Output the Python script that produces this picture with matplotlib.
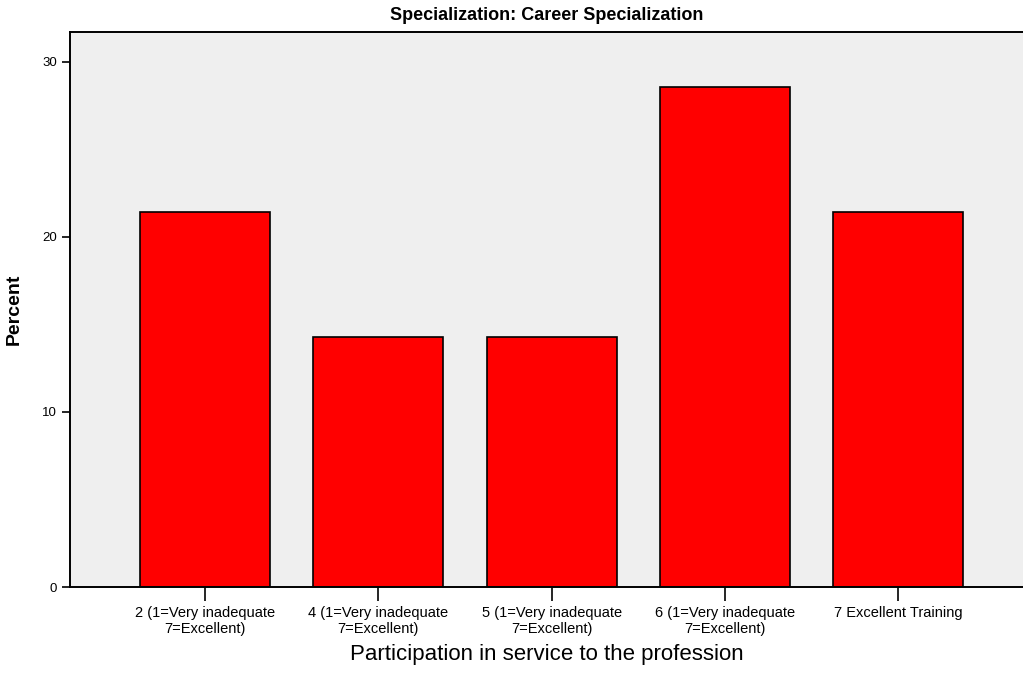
import matplotlib.pyplot as plt
import numpy as np

plt.rcParams['font.family'] = ['Liberation Sans Narrow', 'Liberation Sans', 'DejaVu Sans']

categories = ['2 (1=Very inadequate\n7=Excellent)', '4 (1=Very inadequate\n7=Excellent)',
              '5 (1=Very inadequate\n7=Excellent)', '6 (1=Very inadequate\n7=Excellent)',
              '7 Excellent Training']
percent = [21.43, 14.29, 14.29, 28.57, 21.43]

fig = plt.figure(figsize=(10.23, 6.81), dpi=100)
ax = fig.add_axes([70 / 1023, 1 - 587 / 681, 1 - 70 / 1023, (587 - 32) / 681])
ax.set_facecolor('#efefef')

x = np.arange(len(categories))
ax.bar(x, percent, width=0.75, color='#ff0000', edgecolor='black', linewidth=1.2, zorder=2)

ax.set_xlim(-0.78, 4.72)
ax.set_ylim(0, 31.7)
ax.set_yticks([0, 10, 20, 30])
ax.set_xticks(x)
ax.set_xticklabels(categories, fontsize=10.5, linespacing=1.1)
ax.tick_params(axis='y', length=6, width=1.2, labelsize=9.5)
ax.tick_params(axis='x', length=10, width=1.2, pad=4)

for side in ['left', 'bottom', 'top']:
    ax.spines[side].set_linewidth(1.4)
ax.spines['right'].set_visible(False)

ax.set_title('Specialization: Career Specialization', fontsize=13, fontweight='bold', pad=9)
ax.set_xlabel('Participation in service to the profession', fontsize=16, labelpad=6)
ax.set_ylabel('Percent', fontsize=14, fontweight='bold', labelpad=14)

fig.savefig('out.png', dpi=100)
